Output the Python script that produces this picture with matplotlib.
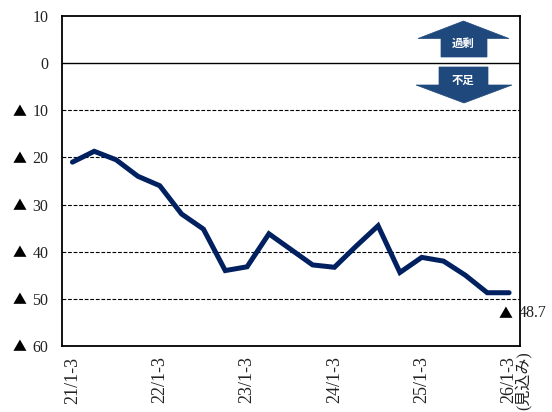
import matplotlib
matplotlib.use("Agg")
import matplotlib.pyplot as plt
from matplotlib.patches import Polygon
from matplotlib.ticker import FuncFormatter
from matplotlib.transforms import Affine2D

plt.rcParams["font.family"] = ["Liberation Serif", "Noto Sans CJK JP", "DejaVu Sans"]

quarters = ["21/1-3", "", "", "", "22/1-3", "", "", "", "23/1-3", "", "", "", "24/1-3", "", "", "",
            "25/1-3", "", "", "", "26/1-3"]
forecast_note = "(見込み)"
values = [-21.0, -18.7, -20.5, -24.0, -26.0, -32.0, -35.2, -44.0, -43.2, -36.2, -39.5,
          -42.8, -43.3, -38.8, -34.5, -44.4, -41.2, -42.0, -45.0, -48.7, -48.7]
yticks = [10, 0, -10, -20, -30, -40, -50, -60]
up_label = "過剰"
down_label = "不足"
last_label = "48.7"
tri = "▲"
cjk = "Noto Sans CJK JP"


def fmt(v, pos):
    return f"{abs(v):.0f}"


fig = plt.figure(figsize=(5.52, 4.12), dpi=100)
ax = fig.add_axes([61.5 / 552, 1 - 346 / 412, (520 - 61.5) / 552, (346 - 16) / 412])
x = list(range(len(values)))

for v in yticks:
    if v == 0:
        ax.axhline(v, color="black", lw=1.0, zorder=1)
    elif v > -60 and v < 10:
        ax.axhline(v, color="black", lw=0.8, ls=(0, (3.4, 1.6)), zorder=1)

ax.plot(x, values, color="#002060", lw=3.6, solid_joinstyle="miter", solid_capstyle="round", zorder=3)

ax.set_xlim(-0.5, len(values) - 0.5)
ax.set_ylim(-60, 10)
ax.set_yticks(yticks)
ax.yaxis.set_major_formatter(FuncFormatter(fmt))
ax.set_xticks(x)
ax.set_xticklabels(quarters, rotation=90, ha="center", va="top")
ax.tick_params(axis="both", length=0, labelsize=13, colors="#222222")
ax.tick_params(axis="y", labelsize=11.5, pad=9.5)
ax.tick_params(axis="x", pad=7.5)
for s in ax.spines.values():
    s.set_linewidth(1.3)
    s.set_color("black")

# negative ticks get the triangle from the CJK font, the serif one is too small
for v in yticks:
    if v < 0:
        ax.annotate(tri, (0, v), xycoords=ax.get_yaxis_transform(), xytext=(-30, -1), textcoords="offset points",
                    ha="center", va="center", fontsize=10, family=cjk, color="black", annotation_clip=False)

# last point label sits under the line, outside the frame
ax.annotate(tri, (x[-1], values[-1]), xytext=(-2.5, -15.5), textcoords="offset points",
            ha="center", va="center", fontsize=10, family=cjk, color="black", annotation_clip=False)
ax.annotate(last_label, (x[-1], values[-1]), xytext=(7, -14.5), textcoords="offset points",
            ha="left", va="center", fontsize=11.5, color="#222222", annotation_clip=False)

# arrows and the forecast note drawn in image pixels
px = Affine2D().scale(1 / 552, -1 / 412).translate(0, 1) + fig.transFigure
up = [(463.5, 21), (509, 38.5), (487, 38.5), (487, 57), (441, 57), (441, 38.5), (418, 38.5)]
down = [(439, 67), (488, 67), (488, 85), (512, 85), (464, 103), (416, 85), (439, 85)]
for pts in (up, down):
    ax.add_patch(Polygon(pts, closed=True, transform=px, facecolor="#1F497D", edgecolor="#1F497D", lw=0.5, zorder=4))
ax.text(463.5, 43, up_label, transform=px, color="white", fontsize=8.2, fontweight="bold",
        family=cjk, ha="center", va="center", zorder=5)
ax.text(463.5, 80, down_label, transform=px, color="white", fontsize=8.2, fontweight="bold",
        family=cjk, ha="center", va="center", zorder=5)
ax.text(524.5, 381, forecast_note, transform=px, rotation=90, ha="center", va="center",
        fontsize=11.5, color="#222222", clip_on=False)

fig.savefig("out.png", dpi=100)
